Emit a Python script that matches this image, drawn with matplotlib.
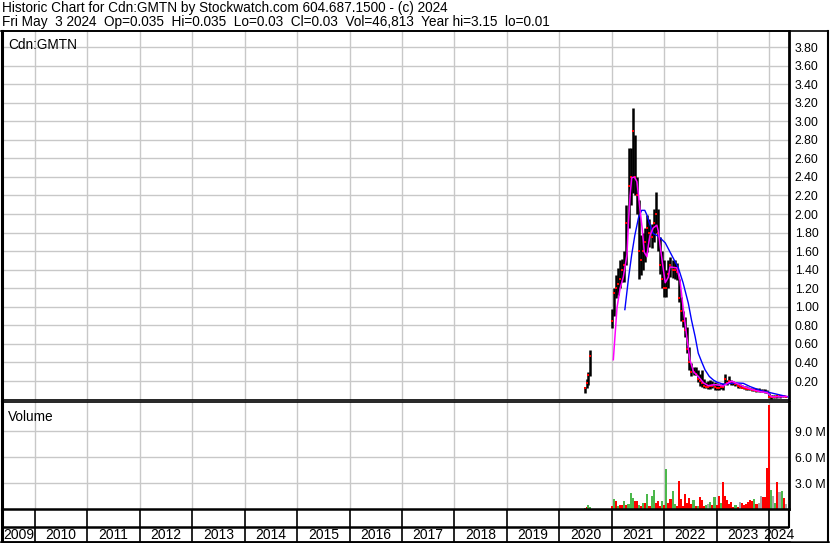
import matplotlib.pyplot as plt
from matplotlib.lines import Line2D
import numpy as np

plt.rcParams['font.family'] = ['Liberation Sans', 'DejaVu Sans']

# ---- price bars (decimal year, low, high, close) ----
dates = [2020.49, 2020.52, 2020.55, 2020.58,
         2021.00, 2021.04, 2021.08, 2021.12, 2021.16, 2021.20, 2021.24, 2021.28,
         2021.32, 2021.36, 2021.40, 2021.44, 2021.48, 2021.52, 2021.56, 2021.60,
         2021.64, 2021.68, 2021.72, 2021.76, 2021.80, 2021.84, 2021.88, 2021.92,
         2021.96, 2022.00, 2022.04, 2022.08, 2022.12, 2022.16, 2022.20, 2022.24,
         2022.28, 2022.32, 2022.36, 2022.40, 2022.44, 2022.48, 2022.52, 2022.56,
         2022.60, 2022.64, 2022.68, 2022.72, 2022.76, 2022.80, 2022.84, 2022.88,
         2022.92, 2022.96, 2023.00, 2023.04, 2023.08, 2023.12, 2023.16, 2023.20,
         2023.24, 2023.28, 2023.32, 2023.36, 2023.40, 2023.44, 2023.48, 2023.52,
         2023.56, 2023.60, 2023.64, 2023.68, 2023.72, 2023.76, 2023.80, 2023.84,
         2023.88, 2023.92, 2023.96, 2024.00, 2024.04, 2024.08, 2024.12, 2024.16,
         2024.20, 2024.24, 2024.28, 2024.32]
lows = [0.07, 0.12, 0.16, 0.25,
        0.77, 0.90, 1.10, 1.13, 1.20, 1.27, 1.27, 1.45,
        1.85, 2.10, 2.23, 2.20, 2.00, 1.30, 1.34, 1.40,
        1.48, 1.59, 1.65, 1.63, 1.70, 1.80, 1.60, 1.35,
        1.20, 1.11, 1.11, 1.20, 1.32, 1.31, 1.30, 1.29,
        1.05, 0.85, 0.78, 0.68, 0.50, 0.32, 0.25, 0.26,
        0.26, 0.19, 0.15, 0.14, 0.12, 0.12, 0.11, 0.11,
        0.12, 0.10, 0.10, 0.10, 0.11, 0.10, 0.18, 0.16,
        0.18, 0.16, 0.16, 0.15, 0.13, 0.12, 0.12, 0.11,
        0.10, 0.10, 0.10, 0.09, 0.09, 0.08, 0.08, 0.08,
        0.08, 0.075, 0.07, 0.02, 0.01, 0.02, 0.02, 0.02,
        0.02, 0.025, 0.025, 0.025]
highs = [0.14, 0.22, 0.30, 0.53,
         0.98, 1.20, 1.34, 1.42, 1.50, 1.52, 1.60, 2.10,
         2.71, 2.71, 3.14, 2.85, 2.40, 2.15, 1.77, 1.80,
         1.85, 1.99, 1.95, 1.89, 2.05, 2.24, 2.05, 1.75,
         1.60, 1.50, 1.40, 1.50, 1.54, 1.51, 1.50, 1.47,
         1.30, 1.11, 0.95, 0.89, 0.78, 0.57, 0.39, 0.35,
         0.35, 0.32, 0.28, 0.32, 0.22, 0.19, 0.20, 0.21,
         0.20, 0.19, 0.18, 0.17, 0.17, 0.18, 0.28, 0.21,
         0.25, 0.21, 0.20, 0.19, 0.18, 0.17, 0.16, 0.15,
         0.15, 0.14, 0.13, 0.13, 0.12, 0.12, 0.12, 0.11,
         0.11, 0.11, 0.10, 0.07, 0.05, 0.05, 0.045, 0.045,
         0.05, 0.05, 0.045, 0.04]
closes = [0.13, 0.18, 0.27, 0.47,
          0.85, 1.15, 1.20, 1.25, 1.30, 1.40, 1.45, 1.90,
          2.30, 2.40, 2.90, 2.40, 2.20, 1.60, 1.50, 1.60,
          1.70, 1.85, 1.80, 1.75, 1.90, 2.00, 1.80, 1.45,
          1.30, 1.20, 1.20, 1.35, 1.45, 1.40, 1.40, 1.38,
          1.10, 0.95, 0.85, 0.75, 0.55, 0.40, 0.30, 0.30,
          0.28, 0.22, 0.20, 0.18, 0.15, 0.14, 0.14, 0.15,
          0.15, 0.14, 0.13, 0.13, 0.14, 0.14, 0.22, 0.18,
          0.20, 0.19, 0.18, 0.17, 0.15, 0.14, 0.13, 0.12,
          0.11, 0.11, 0.11, 0.10, 0.10, 0.09, 0.09, 0.09,
          0.09, 0.085, 0.08, 0.03, 0.03, 0.03, 0.03, 0.035,
          0.035, 0.04, 0.035, 0.03]

# ---- volume (millions) and bar colour: g=up, r=down, k=unchanged ----
volumes = [0.2, 0.3, 0.5, 0.3,
           0.4, 1.2, 0.9, 0.4, 0.5, 0.5, 1.0, 0.5, 0.6, 1.9, 1.3, 1.0,
           1.0, 0.5, 0.4, 0.7, 0.7, 1.8, 0.4, 1.5, 2.2, 0.7, 0.9, 0.4,
           1.0, 0.5, 4.7, 0.7, 1.15, 2.15, 0.6, 0.4, 3.3, 1.15, 0.4, 1.8,
           0.7, 1.3, 0.6, 1.1, 0.4, 0.4, 1.4, 1.1, 0.4, 0.5, 0.6, 0.8,
           0.5, 1.4, 0.5, 1.5, 0.7, 3.15, 1.5, 1.1, 0.6, 0.8, 0.3, 0.5,
           0.3, 0.8, 0.7, 0.5, 0.6, 0.8, 1.1, 0.9, 1.2, 0.6, 0.7, 1.5,
           1.45, 1.4, 4.8, 12.0, 2.2, 1.5, 0.7, 3.2, 2.0, 2.15, 1.3, 0.6]
vol_dir = list('grgg'
               'rgrgrrgrgggr'
               'rgrgrgrggrrr'
               'grgrrgg' 'rrrrr'
               'rrrgrgrrrgkg'
               'rgrrgrrrrrrg'
               'rkrrrrrrgrkk'
               'rrrrgkgrkgrk')

# ---- moving averages ----
ma_short_dates = [2021.03, 2021.10, 2021.16, 2021.22, 2021.29, 2021.32, 2021.35,
                  2021.38, 2021.43, 2021.48, 2021.51, 2021.54, 2021.58, 2021.62,
                  2021.67, 2021.70, 2021.73, 2021.79, 2021.86, 2021.89, 2021.92,
                  2021.98, 2022.02, 2022.08, 2022.11, 2022.24, 2022.30, 2022.36,
                  2022.43, 2022.49, 2022.56, 2022.65, 2022.75, 2022.84, 2022.94,
                  2023.00, 2023.13, 2023.22, 2023.29, 2023.38, 2023.51, 2023.64,
                  2023.83, 2023.96, 2024.05, 2024.21, 2024.34]
ma_short = [0.43, 0.99, 1.20, 1.32, 1.56, 1.92, 2.20,
            2.39, 2.40, 2.35, 2.20, 2.04, 1.85, 1.59,
            1.54, 1.67, 1.77, 1.85, 1.88, 1.81, 1.67,
            1.42, 1.26, 1.32, 1.43, 1.42, 1.29, 1.00,
            0.68, 0.43, 0.30, 0.25, 0.18, 0.15, 0.16,
            0.16, 0.147, 0.18, 0.20, 0.175, 0.14, 0.115,
            0.085, 0.075, 0.03, 0.03, 0.035]
ma_long_dates = [2021.25, 2021.32, 2021.38, 2021.44, 2021.51, 2021.57, 2021.63,
                 2021.67, 2021.73, 2021.79, 2021.89, 2022.02, 2022.14, 2022.27,
                 2022.36, 2022.46, 2022.52, 2022.59, 2022.65, 2022.72, 2022.78,
                 2022.86, 2022.94, 2023.00, 2023.13, 2023.26, 2023.38, 2023.51,
                 2023.64, 2023.83, 2024.02, 2024.21, 2024.36]
ma_long = [0.97, 1.31, 1.56, 1.77, 1.96, 2.04, 2.04,
           1.99, 1.88, 1.79, 1.76, 1.69, 1.56, 1.42,
           1.26, 1.04, 0.86, 0.68, 0.50, 0.40, 0.32,
           0.25, 0.21, 0.19, 0.165, 0.175, 0.18, 0.175,
           0.14, 0.10, 0.075, 0.05, 0.03]

years = list(range(2009, 2025))
price_ticks = [0.2, 0.4, 0.6, 0.8, 1.0, 1.2, 1.4, 1.6, 1.8, 2.0,
               2.2, 2.4, 2.6, 2.8, 3.0, 3.2, 3.4, 3.6, 3.8]
vol_ticks = [3, 6, 9]

title1 = 'Historic Chart for Cdn:GMTN by Stockwatch.com 604.687.1500 - (c) 2024'
title2 = ('Fri May  3 2024  Op=0.035  Hi=0.035  Lo=0.03  Cl=0.03  '
          'Vol=46,813  Year hi=3.15  lo=0.01')

W, H = 830, 543
X0, X1 = 2009.371, 2024.371
GRID = '#c8c8c8'

fig = plt.figure(figsize=(W / 100, H / 100), dpi=100)


def px_axes(l, t, r, b):
    return fig.add_axes([l / W, 1 - b / H, (r - l) / W, (b - t) / H])


def px_line(xs, ys, lw):
    fig.add_artist(Line2D([x / W for x in xs], [1 - y / H for y in ys],
                          color='black', lw=lw, transform=fig.transFigure))


fig.text(2 / W, 1 - 8 / H, title1, fontsize=9.8, va='center', ha='left')
fig.text(2 / W, 1 - 22 / H, title2, fontsize=9.8, va='center', ha='left')

# price panel
axp = px_axes(2, 31, 788.5, 399.6)
axp.set_xlim(X0, X1)
axp.set_ylim(0, 3.973)
for y in price_ticks:
    axp.axhline(y, color=GRID, lw=1, zorder=0)
for yr in years[1:]:
    axp.axvline(yr, color=GRID, lw=1, zorder=0)
axp.vlines(dates, lows, highs, color='black', lw=1.8, zorder=2)
axp.plot(dates, closes, 's', color='red', ms=1.8, mew=0, zorder=3)
axp.plot(ma_long_dates, ma_long, color='#0000ff', lw=1.0, zorder=4)
axp.plot(ma_short_dates, ma_short, color='#ff00ff', lw=1.1, zorder=5)
axp.text(0.008, 0.982, 'Cdn:GMTN', transform=axp.transAxes, fontsize=9.8,
         va='top', ha='left')
axp.set_xticks([])
axp.yaxis.tick_right()
axp.set_yticks(price_ticks)
axp.set_yticklabels(['%.2f' % v for v in price_ticks])
axp.tick_params(axis='y', length=0, pad=4.5, labelsize=8.8)

# volume panel
axv = px_axes(2, 402, 788.5, 509.3)
axv.set_xlim(X0, X1)
axv.set_ylim(0, 12.38)
for y in vol_ticks:
    axv.axhline(y, color=GRID, lw=1, zorder=0)
for yr in years[1:]:
    axv.axvline(yr, color=GRID, lw=1, zorder=0)
cmap = {'g': '#4cb84c', 'r': '#ff0000', 'k': '#a8a8a8'}
axv.bar(dates, volumes, width=0.04, color=[cmap[c] for c in vol_dir],
        linewidth=0, zorder=2)
axv.text(0.008, 0.93, 'Volume', transform=axv.transAxes, fontsize=9.8,
         va='top', ha='left')
axv.set_xticks([])
axv.yaxis.tick_right()
axv.set_yticks(vol_ticks)
axv.set_yticklabels(['%.1f M' % v for v in vol_ticks])
axv.tick_params(axis='y', length=0, pad=4.5, labelsize=8.8)

# date band
axd = px_axes(2, 509.3, 788.5, 541.7)
axd.set_xlim(X0, X1)
axd.set_ylim(0, 1)
axd.axhline(0.463, color='black', lw=1.8)
for yr in years[1:]:
    axd.axvline(yr, color='black', lw=1.2)
for yr in years:
    c = (max(yr, X0) + min(yr + 1, X1)) / 2
    axd.text(c, 0.22, str(yr), fontsize=10, ha='center', va='center')
axd.set_xticks([])
axd.set_yticks([])

for ax, top_lw, bot_lw in ((axp, 1.2, 1.2), (axv, 1.2, 1.8), (axd, 0, 1.8)):
    ax.spines['left'].set_linewidth(2.2)
    ax.spines['right'].set_linewidth(2.0)
    ax.spines['top'].set_linewidth(top_lw)
    ax.spines['bottom'].set_linewidth(bot_lw)
    ax.patch.set_alpha(0)
axd.spines['top'].set_visible(False)
axd.spines['right'].set_visible(False)
px_line([788.5, 788.5], [509.3, 526.7], 1.5)

# outer frame
px_line([1, 828], [31, 31], 1.2)
px_line([828, 828], [31, 541.7], 1.5)
px_line([1, 828], [541.7, 541.7], 1.8)

fig.savefig('out.png', dpi=100)
